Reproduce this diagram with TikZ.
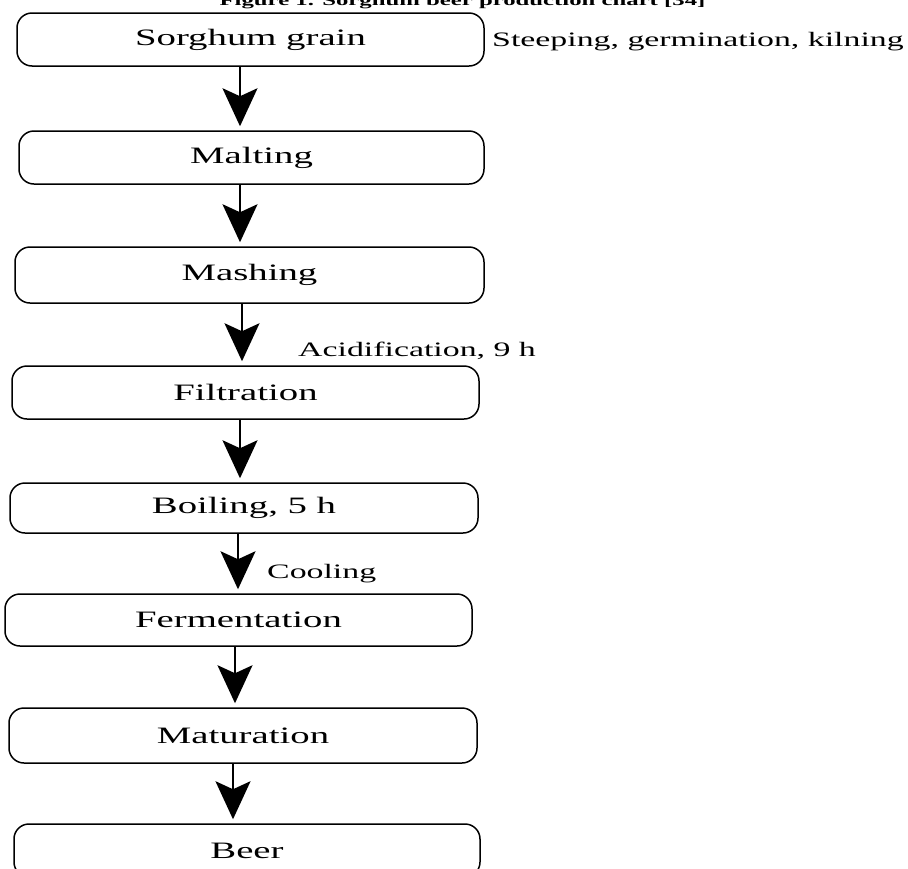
\documentclass[tikz,border=0pt]{standalone}
\usepackage{fontspec}
\setmainfont{Liberation Serif}[FakeStretch=1.65]
\usetikzlibrary{arrows.meta}

\begin{document}
\begin{tikzpicture}[x=1pt,y=-1pt,
				flow/.style={-{Stealth[length=38pt,width=35pt,inset=8pt]},line width=2pt,shorten >=4pt},
				main node/.style={draw,rounded corners=15pt,line width=1.5pt,minimum width=467pt,minimum height=53pt,inner sep=0pt,font=\fontsize{23.5}{28}\selectfont},
				side node/.style={anchor=base west,inner sep=0pt,font=\fontsize{20.5}{24}\selectfont}]
				
				\useasboundingbox (0,0) rectangle (908,868);
				\clip (0,0) rectangle (908,868);
				
				\node[anchor=base,inner sep=0pt,font=\fontsize{15}{18}\selectfont\bfseries] (title) at (462.5,5.5) {Figure 1. Sorghum beer production chart [34]};
				
				\node[main node] (1) at (250.5,39.5) {Sorghum grain};
				\node[main node,minimum width=465pt] (2) at (251.5,157.5) {Malting};
				\node[main node,minimum width=469pt,minimum height=56pt] (3) at (249.5,275) {Mashing};
				\node[main node] (4) at (245.5,392.5) {Filtration};
				\node[main node,minimum width=468pt,minimum height=50pt] (5) at (244,508) {Boiling, 5 h};
				\node[main node,minimum height=52pt] (6) at (238.5,620) {Fermentation};
				\node[main node,minimum width=468pt,minimum height=55pt] (7) at (243,735.5) {Maturation};
				\node[main node,minimum width=466pt] (8) at (247,850.5) {Beer};
				
				\node[side node] (steep) at (492,46) {Steeping, germination, kilning};
				\node[side node] (acid) at (298,356) {Acidification, 9 h};
				\node[side node] (cool) at (267,578) {Cooling};
				
				\foreach \a/\b/\dx in {1/2/-10.5,2/3/-11.5,3/4/-7.5,4/5/-5.5,5/6/-6,6/7/-3.5,7/8/-10}
				{
					\coordinate (s\a) at ([xshift=\dx pt]\a.south);
					\draw[flow] (s\a) -- (s\a |- \b.north);
				}
				
				\end{tikzpicture}
\end{document}
